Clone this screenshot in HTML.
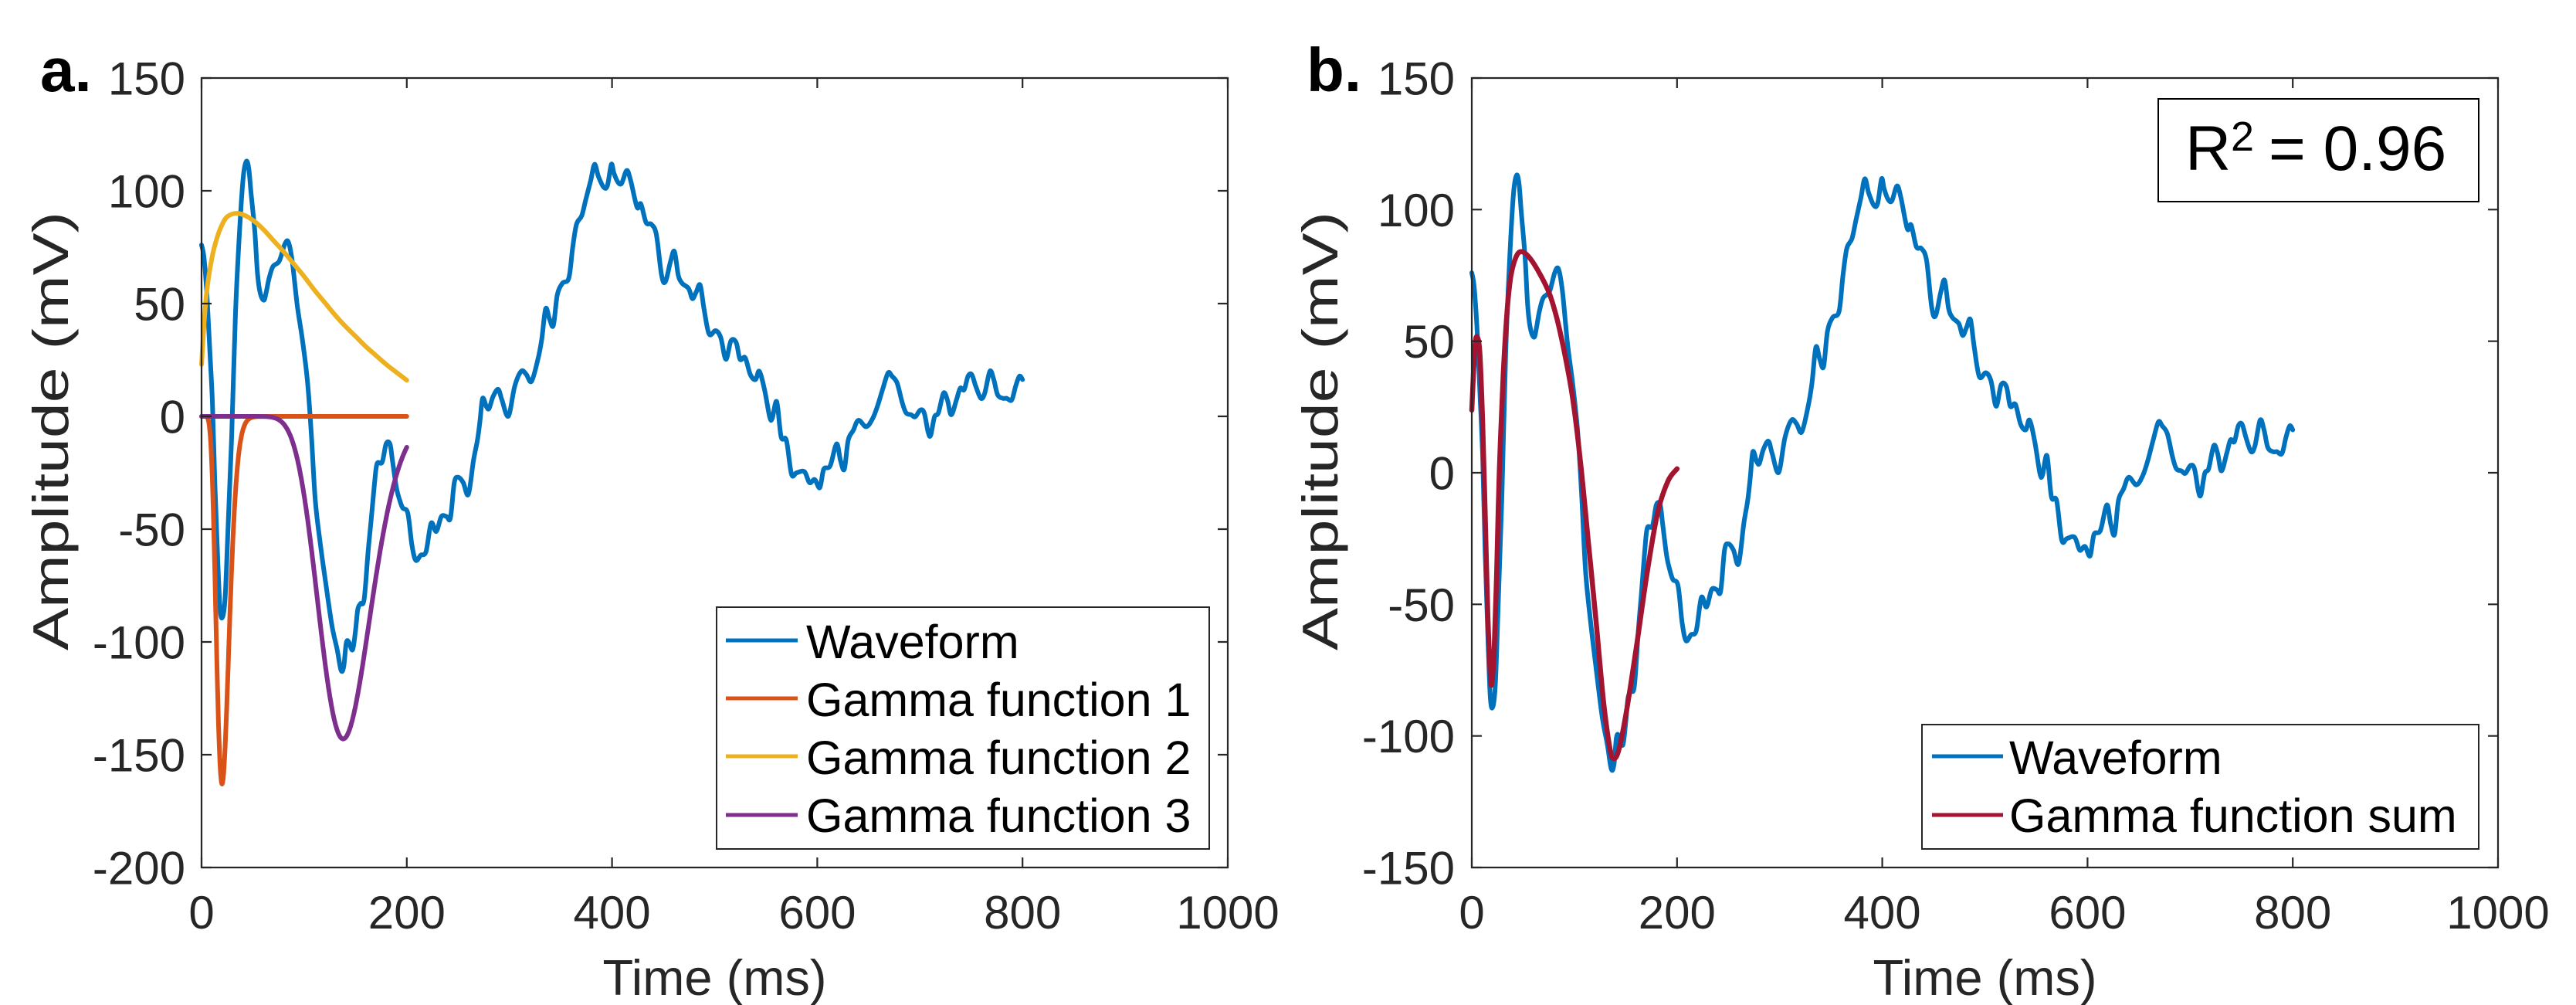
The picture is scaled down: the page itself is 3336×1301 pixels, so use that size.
<!DOCTYPE html>
<html>
<head>
<meta charset="utf-8">
<style>
html,body{margin:0;padding:0;background:#fff;overflow:hidden;width:3336px;height:1301px}
svg{display:block}
text{font-family:"Liberation Sans",Arial,Helvetica,sans-serif}
</style>
</head>
<body>
<svg id="s" width="3336" height="1301" viewBox="0 0 3336 1301" xmlns="http://www.w3.org/2000/svg">
<rect x="0" y="0" width="3336" height="1301" fill="#ffffff"/>

<!-- data layers -->
<g id="da"></g>
<g id="db"></g>

<!-- Panel a axes -->
<g stroke="#262626" stroke-width="2.2" fill="none">
  <rect x="261" y="101" width="1329" height="1022"/>
  <path d="M261 1123V1110 M526.8 1123V1110 M792.6 1123V1110 M1058.4 1123V1110 M1324.2 1123V1110 M1590 1123V1110
           M261 101V114 M526.8 101V114 M792.6 101V114 M1058.4 101V114 M1324.2 101V114 M1590 101V114
           M261 101H274 M261 247H274 M261 393H274 M261 539H274 M261 685H274 M261 831H274 M261 977H274 M261 1123H274
           M1590 101H1577 M1590 247H1577 M1590 393H1577 M1590 539H1577 M1590 685H1577 M1590 831H1577 M1590 977H1577 M1590 1123H1577"/>
</g>
<g font-size="60" fill="#262626" text-anchor="middle">
  <text x="261" y="1202">0</text>
  <text x="526.8" y="1202">200</text>
  <text x="792.6" y="1202">400</text>
  <text x="1058.4" y="1202">600</text>
  <text x="1324.2" y="1202">800</text>
  <text x="1590" y="1202">1000</text>
</g>
<g font-size="60" fill="#262626" text-anchor="end">
  <text x="240" y="122.5">150</text>
  <text x="240" y="268.5">100</text>
  <text x="240" y="414.5">50</text>
  <text x="240" y="560.5">0</text>
  <text x="240" y="706.5">-50</text>
  <text x="240" y="852.5">-100</text>
  <text x="240" y="998.5">-150</text>
  <text x="240" y="1144.5">-200</text>
</g>
<text x="925.5" y="1288" font-size="65" fill="#262626" text-anchor="middle">Time (ms)</text>
<text transform="translate(88,842) rotate(-90)" font-size="65" fill="#262626" text-anchor="start" textLength="568" lengthAdjust="spacingAndGlyphs">Amplitude (mV)</text>
<text x="52" y="118" font-size="80" font-weight="bold" fill="#000">a.</text>

<!-- Panel a legend -->
<rect x="928" y="786" width="638" height="313" fill="#ffffff" stroke="#262626" stroke-width="2"/>
<g stroke-width="5" fill="none">
  <path d="M940 829H1033" stroke="#0072BD"/>
  <path d="M940 904H1033" stroke="#D95319"/>
  <path d="M940 979H1033" stroke="#EDB120"/>
  <path d="M940 1055H1033" stroke="#7E2F8E"/>
</g>
<g font-size="61" fill="#000">
  <text x="1044" y="852">Waveform</text>
  <text x="1044" y="927">Gamma function 1</text>
  <text x="1044" y="1002">Gamma function 2</text>
  <text x="1044" y="1077">Gamma function 3</text>
</g>

<!-- Panel b axes -->
<g stroke="#262626" stroke-width="2.2" fill="none">
  <rect x="1906" y="101" width="1329" height="1022"/>
  <path d="M1906 1123V1110 M2171.8 1123V1110 M2437.6 1123V1110 M2703.4 1123V1110 M2969.2 1123V1110 M3235 1123V1110
           M1906 101V114 M2171.8 101V114 M2437.6 101V114 M2703.4 101V114 M2969.2 101V114 M3235 101V114
           M1906 101H1919 M1906 271.3H1919 M1906 441.7H1919 M1906 612H1919 M1906 782.3H1919 M1906 952.7H1919 M1906 1123H1919
           M3235 101H3222 M3235 271.3H3222 M3235 441.7H3222 M3235 612H3222 M3235 782.3H3222 M3235 952.7H3222 M3235 1123H3222"/>
</g>
<g font-size="60" fill="#262626" text-anchor="middle">
  <text x="1906" y="1202">0</text>
  <text x="2171.8" y="1202">200</text>
  <text x="2437.6" y="1202">400</text>
  <text x="2703.4" y="1202">600</text>
  <text x="2969.2" y="1202">800</text>
  <text x="3235" y="1202">1000</text>
</g>
<g font-size="60" fill="#262626" text-anchor="end">
  <text x="1884" y="122.5">150</text>
  <text x="1884" y="292.8">100</text>
  <text x="1884" y="463.2">50</text>
  <text x="1884" y="633.5">0</text>
  <text x="1884" y="803.8">-50</text>
  <text x="1884" y="974.2">-100</text>
  <text x="1884" y="1144.5">-150</text>
</g>
<text x="2570.5" y="1288" font-size="65" fill="#262626" text-anchor="middle">Time (ms)</text>
<text transform="translate(1732,842) rotate(-90)" font-size="65" fill="#262626" text-anchor="start" textLength="568" lengthAdjust="spacingAndGlyphs">Amplitude (mV)</text>
<text x="1692" y="118" font-size="80" font-weight="bold" fill="#000">b.</text>

<!-- R^2 box -->
<rect x="2795" y="128" width="415" height="133" fill="#ffffff" stroke="#000" stroke-width="2"/>
<text x="2830" y="220" font-size="82" fill="#000">R</text>
<text x="2889" y="195" font-size="54" fill="#000">2</text>
<text x="2938" y="220" font-size="82" fill="#000">= 0.96</text>

<!-- Panel b legend -->
<rect x="2489" y="938" width="721" height="161" fill="#ffffff" stroke="#262626" stroke-width="2"/>
<g stroke-width="5" fill="none">
  <path d="M2502 979H2594" stroke="#0072BD"/>
  <path d="M2502 1055H2594" stroke="#A2142F"/>
</g>
<g font-size="61" fill="#000">
  <text x="2602" y="1002">Waveform</text>
  <text x="2602" y="1077">Gamma function sum</text>
</g>
</svg>

<script>
(function(){
const pa={x0:261,x1:1590,y0:101,y1:1123,lo:-200,hi:150};
const pb={x0:1906,x1:3235,y0:101,y1:1123,lo:-150,hi:150};
function map(p,pts){return pts.map(function(a){return [p.x0+a[0]*(p.x1-p.x0)/1000, p.y0+(p.hi-a[1])*(p.y1-p.y0)/(p.hi-p.lo)];});}
function f(n){return n.toFixed(1);}
function cr(q){
  let d='M'+f(q[0][0])+','+f(q[0][1]);
  for(let i=0;i<q.length-1;i++){
    const p0=q[i-1]||q[i],p1=q[i],p2=q[i+1],p3=q[i+2]||q[i+1];
    const c1x=p1[0]+(p2[0]-p0[0])/6,c1y=p1[1]+(p2[1]-p0[1])/6;
    const c2x=p2[0]-(p3[0]-p1[0])/6,c2y=p2[1]-(p3[1]-p1[1])/6;
    d+=' C'+f(c1x)+','+f(c1y)+' '+f(c2x)+','+f(c2y)+' '+f(p2[0])+','+f(p2[1]);
  }
  return d;
}
function line(q){return 'M'+q.map(function(p){return f(p[0])+','+f(p[1]);}).join(' L');}
function add(id,d,col,w){
  const e=document.createElementNS('http://www.w3.org/2000/svg','path');
  e.setAttribute('d',d);e.setAttribute('fill','none');e.setAttribute('stroke',col);
  e.setAttribute('stroke-width',w);e.setAttribute('stroke-linejoin','round');e.setAttribute('stroke-linecap','round');
  document.getElementById(id).appendChild(e);
}
const W=[[0,76],[2.5,70],[5.5,52],[8,30],[10.5,7],[13,-30],[15.5,-60],[18,-85],[20.5,-89],[23,-80],[25.5,-53],[29.4,-8],[33,45],[37,82],[40.6,106],[43.6,113],[46,110],[48.2,99],[51.9,82],[54.4,64],[57,55],[60.7,51.5],[63,55],[65.7,61],[69.5,66.4],[75.7,68.8],[80.8,76],[84.5,77.4],[88.3,69],[93.3,49],[98.3,34],[103.3,15],[107,-8],[110.9,-37.6],[115.9,-57],[120.9,-73.6],[127.2,-93],[132.2,-103.5],[135.9,-112.5],[138.5,-111],[141,-100.5],[143.5,-100],[147.2,-103.5],[150,-95],[152.2,-85.6],[155,-83],[158.5,-81],[162.3,-60],[165.5,-45],[168.5,-30],[171,-21],[176,-20.3],[179.8,-12.2],[183.6,-12.2],[186,-19.5],[189.9,-31.6],[193,-37],[196,-40.6],[201,-42.9],[205,-57],[208.7,-63.8],[213.7,-61.5],[218.7,-60],[223.7,-47.4],[228.7,-51],[233.7,-44.4],[238.7,-44.4],[242.5,-45],[246.3,-29.4],[250,-27],[255,-29.4],[260,-34.6],[265,-19.5],[268.8,-10.7],[271.4,-1.7],[273.9,8],[277.6,4.3],[280.2,3.5],
[284,8.7],[289,12],[292.7,7.3],[299,0.1],[305.2,13.4],[311.5,20],[316.5,18.6],[321.5,15.5],[327.8,25.3],[331.5,34.2],[335.3,47.7],[339,43.3],[342.8,40.3],[346.6,53.7],[351.6,59],[357.9,61.3],[361.6,74.7],[365.4,85.2],[370.4,88.9],[374.2,95.7],[379.2,104.6],[383,111.7],[386.7,106.4],[391.8,101.6],[395.5,102.3],[399.3,111.7],[401.8,107.9],[405.5,104],[409.3,103.3],[414.3,109],[418.1,104.6],[424.4,92.7],[428.1,94.2],[433.2,85.9],[438.2,85.2],[443.2,80.6],[448.2,62.7],[452,59.7],[457,68.7],[460.8,73.1],[464.5,62.7],[468.3,59],[474.6,56.7],[478.3,52.2],[482.1,55.2],[485.9,58.2],[489.6,47.7],[494.6,36.5],[500.9,38],[505.9,35],[510.9,25.3],[515.9,33.5],[521,32.7],[524.7,25.3],[529.7,26],[534.8,18.5],[539.8,16.3],[543.5,20],[548.6,11.8],[553.6,-0.2],[556.1,-0.9],[560.5,6.5],
[564.8,-9.1],[569.9,-10.6],[574.9,-25.6],[579.9,-25],[587.4,-24.5],[592.4,-29.4],[597.5,-28],[602.5,-31.6],[606.3,-23.4],[612.5,-22],[618.8,-12.2],[622.6,-19.5],[626.4,-23.4],[630.1,-10.6],[635.1,-6.2],[640.1,-1.7],[647.7,-4.6],[654,-0.9],[659,5],[664,12.5],[669,19.3],[672.8,17.8],[677.8,14.8],[682.9,5.9],[686.6,1.5],[691.6,0.7],[695.4,-0.2],[700.4,2.8],[704.2,1.5],[708,-6.9],[710.5,-8.4],[714.2,-0.2],[718,1.5],[723,10.3],[726.8,7.3],[730.5,0.7],[735.6,7.3],[739.3,12.5],[743.1,11.8],[746.9,17.8],[750.6,18.5],[754.4,13.4],[759.4,8],[763.2,10.3],[768.2,20],[772,16.3],[775.7,9.6],[780.8,8],[784.5,8],[789.5,7.3],[793.3,13.4],[797,17.8],[800,16.3]];
const R=[[0,23.8],[3,47.7],[5.5,51.5],[8,44.7],[10.5,19.6],[13,-15.2],[15.5,-52.6],[18.1,-76.6],[19.5,-80],[21.8,-67.6],[24.3,-37.6],[26.8,-0.2],[30.6,37],[34.4,61.3],[38.1,74.7],[43.1,82],[48.2,84],[55.7,82],[65.7,76],[75.7,68],[83.2,58.2],[90.8,44.7],[98.3,28.4],[105.8,4.5],[113.4,-25.6],[120.9,-55.6],[128.4,-87],[134.7,-105],[138.5,-108.6],[143.5,-105],[151,-90],[161,-64.6],[171,-37.6],[181.1,-15.2],[191.1,-3.2],[200,1.5]];
const G2=[[0,23],[2,38],[5,55],[10,70],[15,79],[20,85],[25,88.5],[33,90],[40,89.5],[50,87],[60,83],[70,78],[80,73],[90,67.5],[100,62],[110,56],[120,50.5],[130,45],[140,40],[150,35.5],[160,31],[170,27],[180,23],[190,19.5],[200,16]];
function gam(A,tp,a){const o=[];for(let t=0;t<=200.001;t+=0.5){const u=t/tp;o.push([t,t===0?0:A*Math.pow(u,a)*Math.exp(a*(1-u))]);}return o;}
const G1=gam(-163,20,10.5), G3=gam(-143,138,30);
// panel a
add('da',cr(map(pa,W)),'#0072BD',6);
add('da',line(map(pa,G1)),'#D95319',6);
add('da',cr(map(pa,G2)),'#EDB120',6);
add('da',line(map(pa,G3)),'#7E2F8E',6);
// panel b
add('db',cr(map(pb,W)),'#0072BD',6);
add('db',cr(map(pb,R)),'#A2142F',6.5);
})();
</script>
</body>
</html>
